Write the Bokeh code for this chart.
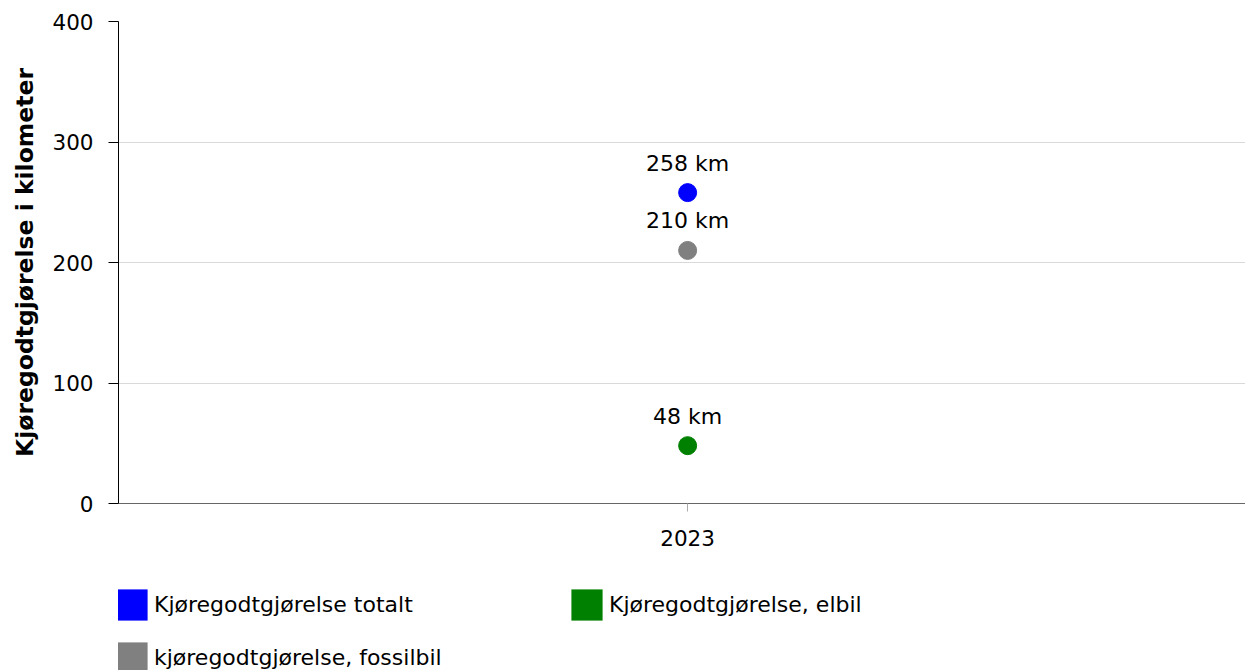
from bokeh.plotting import figure
from bokeh.layouts import column
from bokeh.models import ColumnDataSource, Legend, LegendItem, FixedTicker, Range1d, LabelSet
from bokeh.core.properties import value
from bokeh.embed import file_html
from bokeh.resources import INLINE

years = [2023]
series_names = ["Kjøregodtgjørelse totalt", "Kjøregodtgjørelse, elbil", "kjøregodtgjørelse, fossilbil"]
total_vals = [258]
elbil_vals = [48]
fossil_vals = [210]
colors = ["#0000ff", "#008000", "#808080"]
y_ticks = [0, 100, 200, 300, 400]

FONT = "DejaVu Sans"

p = figure(width=1245, height=560,
           x_range=Range1d(years[0] - 0.505, years[0] + 0.495), y_range=Range1d(0, 400),
           output_backend="svg", toolbar_location=None,
           min_border_left=118, min_border_right=0, min_border_top=21,
           min_border_bottom=57)
p.outline_line_color = None
p.background_fill_color = "white"
p.border_fill_color = "white"

p.xgrid.grid_line_color = None
p.ygrid.grid_line_color = "#d9d9d9"
p.yaxis.ticker = FixedTicker(ticks=y_ticks)
p.yaxis.axis_label = "Kjøregodtgjørelse i kilometer"
p.yaxis.axis_label_text_font = FONT
p.yaxis.axis_label_text_font_style = "bold"
p.yaxis.axis_label_text_font_size = "23.5px"
p.yaxis.axis_label_text_color = "#000000"
p.yaxis.axis_label_standoff = 10
p.yaxis.major_label_text_font = FONT
p.yaxis.major_label_text_font_size = "21.5px"
p.yaxis.major_label_text_color = "#000000"
p.yaxis.axis_line_color = "#000000"
p.yaxis.major_tick_line_color = "#000000"
p.yaxis.major_tick_out = 10
p.yaxis.major_tick_in = 0
p.yaxis.minor_tick_line_color = None
p.yaxis.major_label_standoff = 15

p.xaxis.ticker = FixedTicker(ticks=years)
p.xaxis.major_label_text_font = FONT
p.xaxis.major_label_text_font_size = "21.5px"
p.xaxis.major_label_text_color = "#000000"
p.xaxis.axis_line_color = "#666666"
p.xaxis.major_tick_line_color = "#aaaaaa"
p.xaxis.major_tick_out = 8
p.xaxis.major_tick_in = 0
p.xaxis.minor_tick_line_color = None
p.xaxis.major_label_standoff = 18

# legend figure
lf = figure(width=1245, height=110, x_range=Range1d(0, 1), y_range=Range1d(0, 1),
            output_backend="svg", toolbar_location=None,
            min_border=0, x_axis_location=None, y_axis_location=None)
lf.outline_line_color = None
lf.grid.grid_line_color = None
lf.background_fill_color = "white"
lf.border_fill_color = "white"

items = []
for name, vals, col in zip(series_names, [total_vals, elbil_vals, fossil_vals], colors):
    src = ColumnDataSource(dict(x=years, y=vals, lab=[f"{v} km" for v in vals]))
    p.scatter("x", "y", source=src, size=18, fill_color=col, line_color=col)
    lbl = LabelSet(x="x", y="y", text="lab", source=src, text_align="center",
                   text_baseline="alphabetic", y_offset=22, text_font=value(FONT),
                   text_font_size=value("22px"), text_color=value("#000000"))
    p.add_layout(lbl)
    leg_src = ColumnDataSource(dict(l=[float("nan")], r=[float("nan")],
                                    b=[float("nan")], t=[float("nan")]))
    sq = lf.quad(left="l", right="r", bottom="b", top="t", source=leg_src,
                 fill_color=col, line_color=None)
    items.append(LegendItem(label=name, renderers=[sq]))

legend = Legend(items=items, ncols=2, location=(-6, -7), orientation="horizontal",
                glyph_width=39, glyph_height=39, label_standoff=3,
                label_text_font=FONT, label_text_font_size="22px",
                label_text_color="#000000", label_text_baseline="middle",
                label_width=399, spacing=14, padding=0, margin=0,
                border_line_color=None, background_fill_alpha=0)
lf.add_layout(legend, "center")

layout = column(p, lf, spacing=0)
open("out.html", "w").write(file_html(layout, INLINE))
